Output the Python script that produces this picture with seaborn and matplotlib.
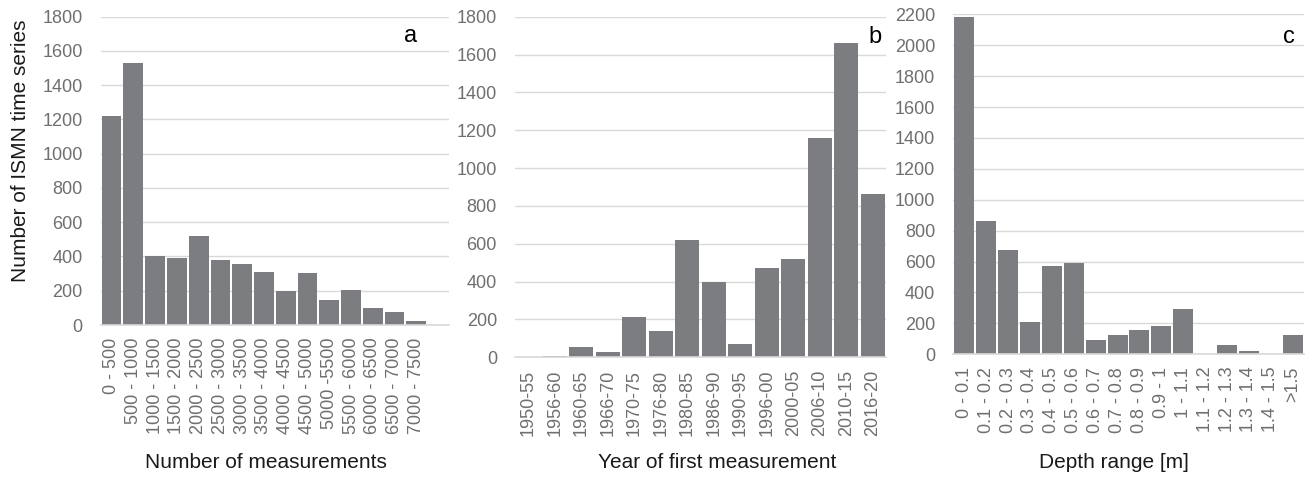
import matplotlib
matplotlib.use("Agg")
import matplotlib.pyplot as plt
import seaborn as sns
import pandas as pd

# ---------------- data ----------------
meas_labels = ["0 - 500", "500 - 1000", "1000 - 1500", "1500 - 2000", "2000 - 2500",
               "2500 - 3000", "3000 - 3500", "3500 - 4000", "4000 - 4500", "4500 - 5000",
               "5000 -5500", "5500 - 6000", "6000 - 6500", "6500 - 7000", "7000 - 7500"]
meas_counts = [1222, 1527, 405, 393, 520, 379, 358, 309, 197, 304, 146, 204, 97, 74, 25]

year_labels = ["1950-55", "1956-60", "1960-65", "1966-70", "1970-75", "1976-80", "1980-85",
               "1986-90", "1990-95", "1996-00", "2000-05", "2006-10", "2010-15", "2016-20"]
year_counts = [0, 7, 53, 28, 213, 141, 618, 400, 69, 470, 520, 1161, 1663, 861]

depth_labels = ["0 - 0.1", "0.1 - 0.2", "0.2 - 0.3", "0.3 - 0.4", "0.4 - 0.5", "0.5 - 0.6",
                "0.6 - 0.7", "0.7 - 0.8", "0.8 - 0.9", "0.9 - 1", "1 - 1.1", "1.1 - 1.2",
                "1.2 - 1.3", "1.3 - 1.4", "1.4 - 1.5", ">1.5"]
depth_counts = [2185, 863, 673, 207, 574, 589, 95, 127, 157, 185, 296, 3, 60, 19, 1, 127]

xlabels = ["Number of measurements", "Year of first measurement", "Depth range [m]"]
panel_letters = ["a", "b", "c"]
ylabel = "Number of ISMN time series"

# ---------------- style ----------------
sns.set_theme(style="white")
plt.rcParams["font.family"] = ["Liberation Sans", "DejaVu Sans"]

BAR = "#7c7d81"
GRID = "#d9d9d9"
TICK = "#6f6f6f"
TEXT = "#1a1a1a"

W, H = 1305, 478
fig = plt.figure(figsize=(W / 100, H / 100), dpi=100)


def px_axes(left, right, top, bottom):
    return fig.add_axes([left / W, (H - bottom) / H, (right - left) / W, (bottom - top) / H])


specs = [
    dict(labels=meas_labels, counts=meas_counts, box=(100.7, 449, 16.7, 325),
         ymax=1800, ncat=16, xl=(266, 463), let=(411, 36)),
    dict(labels=year_labels, counts=year_counts, box=(515, 886, 16.7, 357.3),
         ymax=1800, ncat=14, xl=(717, 463), let=(875, 37)),
    dict(labels=depth_labels, counts=depth_counts, box=(953.3, 1303.7, 14.3, 354.3),
         ymax=2200, ncat=16, xl=(1114, 463), let=(1289, 37)),
]

for i, s in enumerate(specs):
    l, r, t, b = s["box"]
    ax = px_axes(l, r, t, b)
    df = pd.DataFrame({"cat": s["labels"], "n": s["counts"]})
    sns.barplot(data=df, x="cat", y="n", order=s["labels"], color=BAR, width=0.91,
                saturation=1, ax=ax, zorder=3, linewidth=0)
    ax.set_xlim(-0.5, s["ncat"] - 0.5)
    ax.set_ylim(0, s["ymax"])
    ax.set_yticks(range(0, s["ymax"] + 1, 200))
    ax.grid(axis="y", color=GRID, linewidth=1.0, zorder=0)
    ax.grid(axis="x", visible=False)
    for side in ["top", "right", "left"]:
        ax.spines[side].set_visible(False)
    ax.spines["bottom"].set_color(GRID)
    ax.spines["bottom"].set_linewidth(1.2)
    ax.spines["bottom"].set_zorder(4)
    ax.tick_params(axis="y", length=0, pad=13, labelsize=13, labelcolor=TICK)
    ax.tick_params(axis="x", length=0, pad=9, labelsize=13, labelcolor=TICK)
    ax.set_xticks(range(len(s["labels"])))
    ax.set_xticklabels(s["labels"], rotation=90)
    ax.set_ylabel("")
    ax.set_xlabel(xlabels[i], fontsize=15, color=TEXT, va="center")
    ax.xaxis.set_label_coords((s["xl"][0] - l) / (r - l), -(s["xl"][1] - b) / (b - t))
    ax.text((s["let"][0] - l) / (r - l), 1 - (s["let"][1] - t) / (b - t), panel_letters[i],
            transform=ax.transAxes, ha="center", va="center", fontsize=17, color="black")
    if i == 0:
        ax.set_ylabel(ylabel, fontsize=15, color=TEXT, va="center")
        ax.yaxis.set_label_coords((20.5 - l) / (r - l), (b - 150.8) / (b - t))

fig.savefig("out.png", dpi=100)
